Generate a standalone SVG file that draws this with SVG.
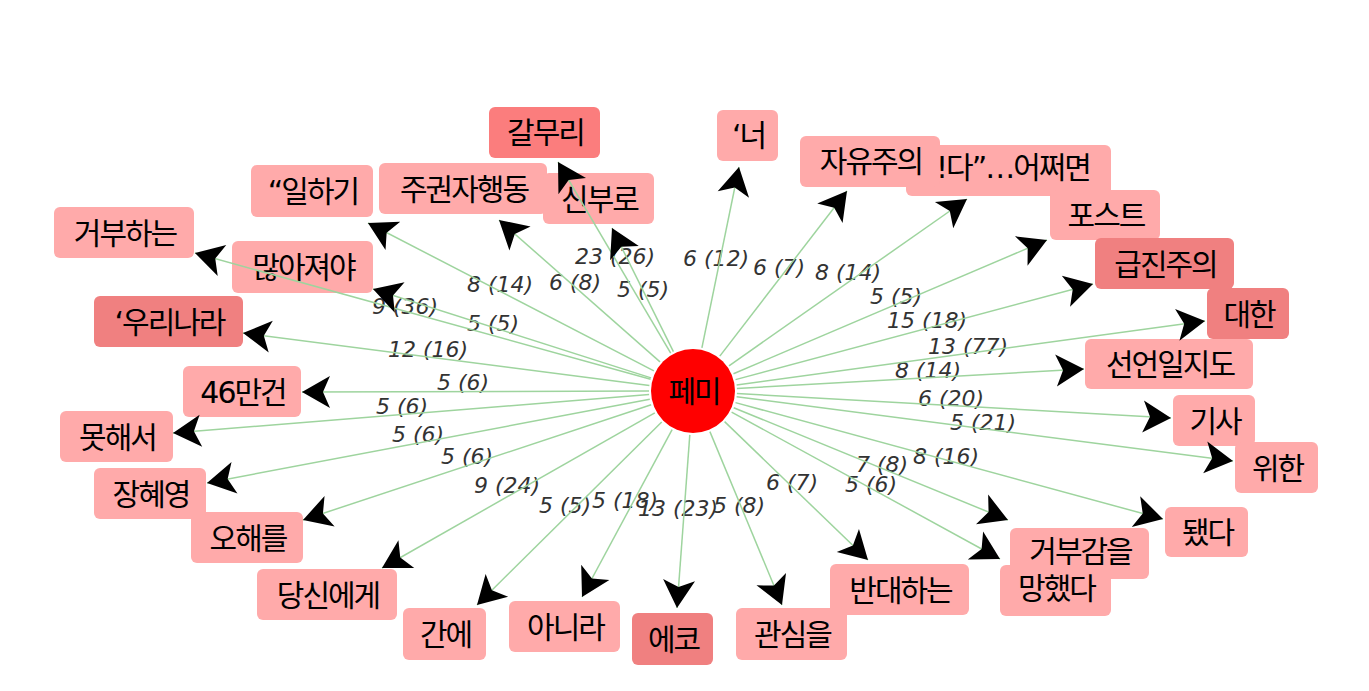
<svg xmlns="http://www.w3.org/2000/svg" width="1369" height="691" viewBox="0 0 1369 691">
<defs>
<marker id="ah" markerUnits="userSpaceOnUse" orient="auto" viewBox="-30 -18 32 36" refX="0" refY="0" markerWidth="32" markerHeight="36">
<path d="M0,0 L-28,-16 L-21,0 L-28,16 Z" fill="#000"/>
</marker>
</defs>
<style>
.n rect{fill:#ffaaaa}
.d rect{fill:#f08080}
.g rect{fill:#fb7d7d}
.n text,.d text,.g text,#center text{font-family:"DejaVu Sans","Noto Sans CJK KR",sans-serif;font-size:30px;letter-spacing:-2px;text-anchor:middle;fill:#000}
#edges line{stroke:#9ed49e;stroke-width:1.5;marker-end:url(#ah)}
#labels text{font-family:"DejaVu Sans",sans-serif;font-style:italic;font-size:22px;fill:#333;text-anchor:middle}
</style>
<rect width="1369" height="691" fill="#fff"/>
<g id="nodes">
<g id="n-galmuri" class="g"><rect x="489" y="107" width="111" height="51" rx="6"/><text x="545.5" y="143">갈무리</text></g>
<g id="n-neo" class="n"><rect x="717" y="110" width="61" height="51" rx="6"/><text x="748.5" y="146">‘너</text></g>
<g id="n-eojjeomyeon" class="n"><rect x="906" y="145" width="205" height="51" rx="6"/><text x="936" y="178" style="text-anchor:start">!다”…어쩌면</text></g>
<g id="n-jayujuui" class="n"><rect x="800" y="136" width="140" height="51" rx="6"/><text x="871" y="172">자유주의</text></g>
<g id="n-poseuteu" class="n"><rect x="1050" y="190" width="110" height="50" rx="6"/><text x="1106" y="226">포스트</text></g>
<g id="n-geupjinjuui" class="d"><rect x="1095" y="238" width="139" height="51" rx="6"/><text x="1165.5" y="274.5">급진주의</text></g>
<g id="n-daehan" class="d"><rect x="1207" y="288" width="82" height="51" rx="6"/><text x="1249" y="324.5">대한</text></g>
<g id="n-seoneon" class="n"><rect x="1085" y="339" width="168" height="50" rx="6"/><text x="1170" y="375">선언일지도</text></g>
<g id="n-gisa" class="n"><rect x="1173" y="395" width="82" height="51" rx="6"/><text x="1215" y="431.5">기사</text></g>
<g id="n-wihan" class="n"><rect x="1235" y="442" width="83" height="51" rx="6"/><text x="1277.5" y="478.5">위한</text></g>
<g id="n-dwaetda" class="n"><rect x="1165" y="507" width="83" height="50" rx="6"/><text x="1207.5" y="543">됐다</text></g>
<g id="n-geobugam" class="n"><rect x="1010" y="528" width="139" height="51" rx="6"/><text x="1080.5" y="562">거부감을</text></g>
<g id="n-manghaetda" class="n"><rect x="1000" y="565" width="111" height="51" rx="6"/><text x="1056.5" y="599">망했다</text></g>
<g id="n-bandae" class="n"><rect x="830" y="564" width="139" height="51" rx="6"/><text x="900.5" y="600.5">반대하는</text></g>
<g id="n-gwansim" class="n"><rect x="736" y="608" width="111" height="52" rx="6"/><text x="792.5" y="645">관심을</text></g>
<g id="n-eko" class="d"><rect x="632" y="613" width="81" height="52" rx="6"/><text x="673.5" y="650">에코</text></g>
<g id="n-anira" class="n"><rect x="509" y="601" width="111" height="51" rx="6"/><text x="565.5" y="637.5">아니라</text></g>
<g id="n-gane" class="n"><rect x="403" y="608" width="83" height="52" rx="6"/><text x="445.5" y="645">간에</text></g>
<g id="n-dangsin" class="n"><rect x="257" y="569" width="140" height="51" rx="6"/><text x="328" y="605.5">당신에게</text></g>
<g id="n-ohae" class="n"><rect x="191" y="512" width="112" height="51" rx="6"/><text x="248" y="548.5">오해를</text></g>
<g id="n-janghyeyeong" class="n"><rect x="94" y="468" width="112" height="51" rx="6"/><text x="151" y="504.5">장혜영</text></g>
<g id="n-mothaeseo" class="n"><rect x="60" y="411" width="113" height="51" rx="6"/><text x="117.5" y="447.5">못해서</text></g>
<g id="n-46" class="n"><rect x="183" y="366" width="118" height="51" rx="6"/><text x="243" y="402.5">46만건</text></g>
<g id="n-urinara" class="d"><rect x="94" y="296" width="149" height="51" rx="6"/><text x="169.5" y="332.5">‘우리나라</text></g>
<g id="n-geobuhaneun" class="n"><rect x="54" y="207" width="140" height="51" rx="6"/><text x="125" y="243.5">거부하는</text></g>
<g id="n-manajyeoya" class="n"><rect x="232" y="241" width="141" height="52" rx="6"/><text x="303.5" y="278">많아져야</text></g>
<g id="n-ilhagi" class="n"><rect x="251" y="165" width="122" height="52" rx="6"/><text x="313" y="202">“일하기</text></g>
<g id="n-jugwon" class="n"><rect x="379" y="163" width="168" height="51" rx="6"/><text x="464" y="199.5">주권자행동</text></g>
<g id="n-sinburo" class="n"><rect x="543" y="173" width="111" height="51" rx="6"/><text x="599.5" y="209.5">신부로</text></g>
</g>
<g id="labels">
<text x="615" y="264">23 (26)</text>
<text x="716" y="266">6 (12)</text>
<text x="779" y="275">6 (7)</text>
<text x="848" y="280">8 (14)</text>
<text x="896" y="304">5 (5)</text>
<text x="927" y="328">15 (18)</text>
<text x="968" y="354">13 (77)</text>
<text x="928" y="378">8 (14)</text>
<text x="951" y="406">6 (20)</text>
<text x="983" y="430">5 (21)</text>
<text x="946" y="464">8 (16)</text>
<text x="882" y="472">7 (8)</text>
<text x="871" y="492">5 (6)</text>
<text x="792" y="490">6 (7)</text>
<text x="739" y="513">5 (8)</text>
<text x="678" y="516">13 (23)</text>
<text x="625" y="508">5 (18)</text>
<text x="565" y="513">5 (5)</text>
<text x="507" y="493">9 (24)</text>
<text x="467" y="464">5 (6)</text>
<text x="418" y="442">5 (6)</text>
<text x="402" y="414">5 (6)</text>
<text x="463" y="390">5 (6)</text>
<text x="428" y="357">12 (16)</text>
<text x="405" y="314">9 (36)</text>
<text x="493" y="331">5 (5)</text>
<text x="500" y="292">8 (14)</text>
<text x="575" y="290">6 (8)</text>
<text x="643" y="297">5 (5)</text>
</g>
<g id="center">
<circle cx="693" cy="391" r="42" fill="#ff0000"/>
<text x="694" y="402">페미</text>
</g>
<g id="edges">
<line x1="670.7" y1="353.1" x2="558" y2="162"/>
<line x1="701.9" y1="347.9" x2="739" y2="167"/>
<line x1="719.8" y1="356.1" x2="847" y2="191"/>
<line x1="729.0" y1="365.8" x2="967" y2="199"/>
<line x1="733.5" y1="373.7" x2="1047" y2="240"/>
<line x1="735.5" y1="379.6" x2="1093" y2="284"/>
<line x1="736.6" y1="385.0" x2="1205" y2="321"/>
<line x1="736.9" y1="388.5" x2="1084" y2="369"/>
<line x1="736.9" y1="393.5" x2="1171" y2="418"/>
<line x1="736.6" y1="396.7" x2="1233" y2="461"/>
<line x1="735.5" y1="402.6" x2="1163" y2="519"/>
<line x1="733.7" y1="407.7" x2="1008" y2="520"/>
<line x1="731.6" y1="412.1" x2="1000" y2="559"/>
<line x1="724.6" y1="421.6" x2="868" y2="560"/>
<line x1="709.9" y1="431.6" x2="782" y2="605"/>
<line x1="689.8" y1="434.9" x2="677" y2="608"/>
<line x1="672.1" y1="429.7" x2="582" y2="597"/>
<line x1="661.7" y1="422.0" x2="477" y2="605"/>
<line x1="654.8" y1="412.8" x2="382" y2="568"/>
<line x1="651.2" y1="404.8" x2="303" y2="520"/>
<line x1="649.8" y1="399.2" x2="207" y2="483"/>
<line x1="649.1" y1="394.5" x2="173" y2="433"/>
<line x1="649.0" y1="391.1" x2="302" y2="392"/>
<line x1="649.4" y1="385.4" x2="243" y2="333"/>
<line x1="650.6" y1="379.3" x2="195" y2="253"/>
<line x1="651.0" y1="377.9" x2="373" y2="289"/>
<line x1="653.9" y1="370.8" x2="368" y2="223"/>
<line x1="660.0" y1="361.9" x2="499" y2="220"/>
<line x1="673.4" y1="351.6" x2="612" y2="228"/>
</g>
</svg>
